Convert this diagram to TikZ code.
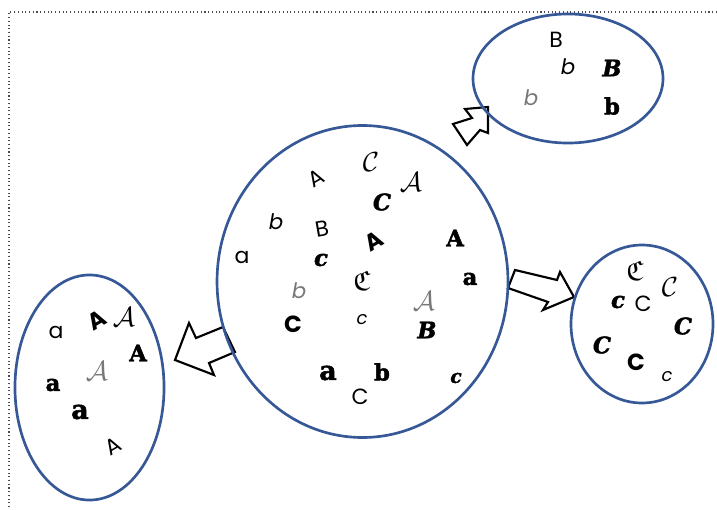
\documentclass[tikz,border=0pt]{standalone}
\usepackage{fontspec}
\usepackage{amssymb}
\newfontfamily\gothic{Poppins}
\newfontfamily\heavy{DejaVu Serif}[BoldFeatures={FakeBold=2},BoldItalicFeatures={FakeBold=2}]
\definecolor{ringblue}{RGB}{54,88,150}
\definecolor{softgray}{RGB}{120,120,120}
\begin{document}
\begin{tikzpicture}[x=0.75pt,y=-0.75pt,
  ring/.style={draw=ringblue,line width=2pt},
  blockarrow/.style={draw=black,fill=white,line width=1.6pt,line join=miter},
  lt/.style={inner sep=0pt},
  g/.style={lt,font=\gothic\fontsize{16.5}{16.5}\selectfont},
  gb/.style={lt,font=\gothic\bfseries\fontsize{17.5}{17.5}\selectfont},
  gi/.style={lt,font=\gothic\itshape\fontsize{16}{16}\selectfont},
  gs/.style={lt,font=\gothic\itshape\fontsize{13.5}{13.5}\selectfont},
  gt/.style={gi,text=softgray},
  hv/.style={lt,font=\heavy\bfseries\fontsize{17}{17}\selectfont},
  hvl/.style={lt,font=\heavy\bfseries\fontsize{20}{20}\selectfont},
  hvi/.style={lt,font=\heavy\bfseries\itshape\fontsize{17}{17}\selectfont},
  hvs/.style={lt,font=\heavy\bfseries\itshape\fontsize{14}{14}\selectfont},
  sc/.style={lt,font=\fontsize{21}{21}\selectfont},
  scg/.style={sc,text=softgray},
  frame/.style={draw=black!70,dotted,line width=0.8pt}]
\useasboundingbox (0,0) rectangle (717,510);
% dotted frame
\coordinate (f1) at (717,12);
\coordinate (f2) at (9,12);
\coordinate (f3) at (9,510);
\draw[frame] (f1) -- (f2) -- (f3);
% block arrows
\draw[blockarrow] (175,360) -- (189,323) -- (196,338) -- (223,327) -- (235,352) -- (209,363) -- (214,375) -- cycle;
\draw[blockarrow] (488,107) -- (465,109) -- (472,118) -- (453,124) -- (467,145) -- (480,130) -- (488,133) -- cycle;
\draw[blockarrow] (515,270) -- (557,280) -- (560,272) -- (574,297) -- (543,310) -- (548,302) -- (508,288) -- cycle;
% ellipses
\draw[ring] (362.5,281.5) ellipse [x radius=109.1pt, y radius=117pt];
\draw[ring] (89.5,387.5) ellipse [x radius=55.9pt, y radius=84.4pt];
\draw[ring] (568,78.5) ellipse [x radius=71.25pt, y radius=48.4pt];
\draw[ring] (642,324) ellipse [x radius=53.25pt, y radius=59.25pt];
% central set
\node[g,rotate=30] (m1) at (316,178) {A};
\node[sc] (m2) at (371,162) {$\mathcal{C}$};
\node[sc] (m3) at (411,182) {$\mathcal{A}$};
\node[hvi] (m4) at (382,202) {C};
\node[gi] (m5) at (276,222) {b};
\node[g,rotate=10] (m6) at (322,229) {B};
\node[gb,rotate=30] (m7) at (374,241) {A};
\node[hv] (m8) at (455,238) {A};
\node[g] (m9) at (242,257) {a};
\node[hvi] (m10) at (321,260) {c};
\node[sc] (m11) at (362,281) {$\mathfrak{C}$};
\node[hv] (m12) at (470,279) {a};
\node[gt] (m13) at (299,291) {b};
\node[scg] (m14) at (424,301) {$\mathcal{A}$};
\node[gb] (m15) at (293,324) {C};
\node[gs] (m16) at (362,320) {c};
\node[hvi] (m17) at (427,330) {B};
\node[hvl] (m18) at (328,373) {a};
\node[hv] (m19) at (382,372) {b};
\node[hvs] (m20) at (456,378) {c};
\node[g] (m21) at (360,397) {C};
% left set
\node[g] (l1) at (56,332) {a};
\node[gb,rotate=30] (l2) at (97,320) {A};
\node[sc] (l3) at (124,317) {$\mathcal{A}$};
\node[hv] (l4) at (138,353) {A};
\node[scg] (l5) at (97,371) {$\mathcal{A}$};
\node[hv] (l6) at (53,385) {a};
\node[hvl] (l7) at (80,412) {a};
\node[g,rotate=30] (l8) at (113,446) {A};
% top-right set
\node[g] (t1) at (556,40) {B};
\node[gi] (t2) at (568,67) {b};
\node[hvi] (t3) at (612,68) {B};
\node[gt] (t4) at (531,98) {b};
\node[hv] (t5) at (612,106) {b};
% right set
\node[sc] (r1) at (635,271) {$\mathfrak{C}$};
\node[sc] (r2) at (670,287) {$\mathcal{C}$};
\node[hvi] (r3) at (618,302) {c};
\node[g] (r4) at (643,304) {C};
\node[hvi] (r5) at (683,326) {C};
\node[hvi] (r6) at (602,345) {C};
\node[gb] (r7) at (636,362) {C};
\node[gs] (r8) at (667,377) {c};
\end{tikzpicture}
\end{document}
